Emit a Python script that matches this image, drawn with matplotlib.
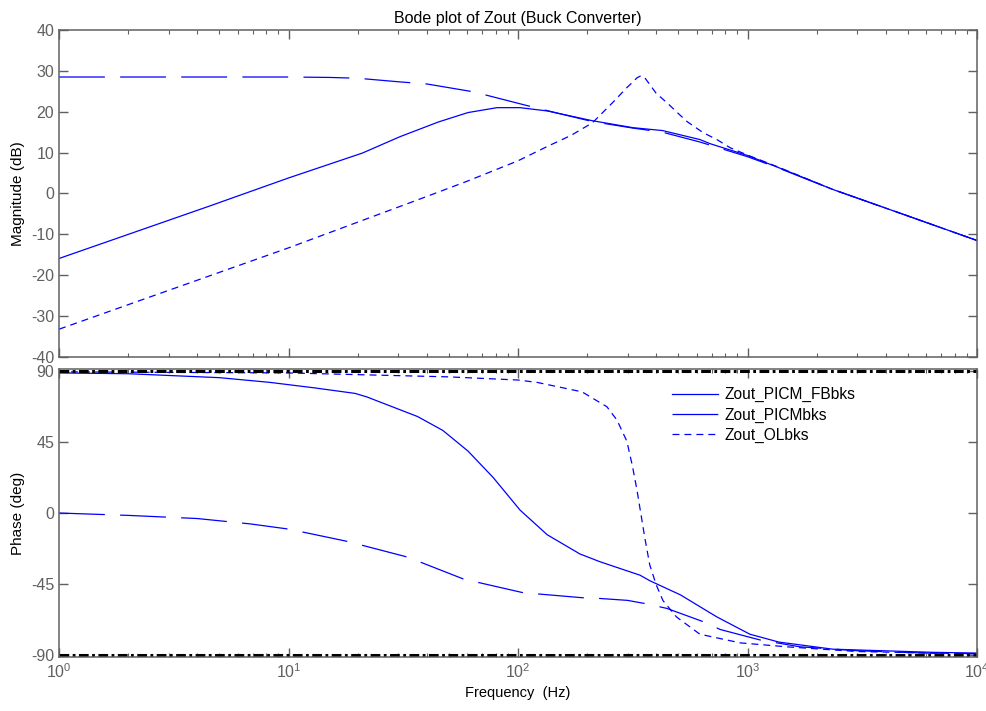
import numpy as np
import matplotlib
matplotlib.use("Agg")
import matplotlib.pyplot as plt

plt.rcParams['font.family'] = ['Liberation Sans', 'DejaVu Sans']
plt.rcParams['mathtext.fontset'] = 'custom'
plt.rcParams['mathtext.rm'] = 'Liberation Sans'
plt.rcParams['mathtext.default'] = 'regular'
plt.rcParams['lines.scale_dashes'] = False
plt.rcParams['axes.unicode_minus'] = False

# magnitude (dB)
f_fb_mag = [1, 4.46, 10, 21, 30.6, 45, 60.5, 81, 102, 134, 211, 317, 426, 620, 686, 1000, 1370, 2350, 5000, 10000]
mag_fb = [-15.9, -3.2, 3.8, 9.9, 13.9, 17.5, 19.8, 21.0, 21.0, 20.2, 17.8, 16.1, 15.4, 13.2, 12.2, 9.3, 6.3, 1.0, -5.5, -11.5]

f_picm_mag = [1, 10, 15, 20, 30.6, 40, 63.6, 115, 150, 211, 317, 426, 620, 1000, 1370, 2350, 5000, 10000]
mag_picm = [28.5, 28.5, 28.4, 28.2, 27.3, 26.8, 24.9, 21.2, 19.6, 17.6, 16.0, 15.0, 12.6, 9.0, 6.2, 1.0, -5.5, -11.5]

f_ol_mag = [1, 10, 38, 60, 100, 134, 170, 211, 258, 298, 330, 343, 357, 400, 450, 490, 545, 640, 735, 840, 1000, 1370, 2350, 5000, 10000]
mag_ol = [-33.2, -13.3, -1.2, 3.0, 8.0, 11.5, 14.2, 17.3, 22.2, 25.9, 28.3, 28.8, 28.3, 24.5, 22.0, 20.0, 17.6, 14.9, 13.2, 11.2, 9.4, 6.4, 1.0, -5.5, -11.5]

# phase (deg)
f_fb_ph = [1, 2, 5, 8.3, 13, 19.5, 22, 36.5, 47, 60.5, 78, 102, 134, 186, 228, 340, 375, 510, 735, 1024, 1370, 2350, 6400, 10000]
ph_fb = [89, 88.5, 86, 83, 79.5, 76, 73.7, 61.3, 52.5, 39.4, 22.5, 1.9, -13.8, -26, -31, -39.5, -43, -52, -66, -77, -82, -86.5, -88.5, -89]

f_picm_ph = [1, 2, 4, 6.8, 10, 18, 33, 58, 105, 190, 228, 300, 357, 445, 640, 760, 1130, 1690, 3000, 6000, 10000]
ph_picm = [0, -1.5, -3.5, -6.9, -10.2, -18, -28, -42, -50.6, -53.8, -54.3, -55.5, -57.5, -60.6, -69, -74, -80.6, -85, -87.5, -89, -89.3]

f_ol_ph = [1, 10, 50, 100, 121, 190, 244, 270, 298, 315, 330, 357, 375, 400, 428, 490, 620, 930, 1480, 3000, 10000]
ph_ol = [89.7, 89, 86.5, 84.5, 83, 77, 67.5, 59, 45.6, 30, 14.4, -16, -33, -45.6, -55.6, -66, -77, -82.5, -85, -88, -89.5]

labels = ['Zout_PICM_FBbks', 'Zout_PICMbks', 'Zout_OLbks']
blue = '#0000ff'
gray = '#606060'

fig = plt.figure(figsize=(9.87, 7.11), dpi=100)
ax1 = fig.add_axes([0.0598, 0.4979, 0.9301, 0.4599])
ax2 = fig.add_axes([0.0598, 0.0759, 0.9301, 0.4051])

ax1.plot(f_fb_mag, mag_fb, color=blue, lw=0.9)
ax1.plot(f_picm_mag, mag_picm, color=blue, lw=0.9, dashes=(33, 11))
ax1.plot(f_ol_mag, mag_ol, color=blue, lw=0.9, dashes=(5, 3.6))

l1, = ax2.plot(f_fb_ph, ph_fb, color=blue, lw=0.9)
l2, = ax2.plot(f_picm_ph, ph_picm, color=blue, lw=0.9, dashes=(33, 11))
l3, = ax2.plot(f_ol_ph, ph_ol, color=blue, lw=0.9, dashes=(5, 3.6))
for yv in (90, -90):
    ax2.plot([1, 10000], [yv, yv], color='black', lw=2.2, dashes=(7, 2.5, 2, 2.5))

for ax in (ax1, ax2):
    ax.set_xscale('log')
    ax.set_xlim(1, 10000)
    ax.tick_params(which='both', direction='in', top=True, right=True,
                   colors=gray, labelsize=11.5)
    ax.tick_params(which='major', length=6.5, width=1)
    ax.tick_params(which='minor', length=3, width=0.8)
    for s in ax.spines.values():
        s.set_color(gray)
        s.set_linewidth(1.1)

ax1.set_ylim(-40, 40)
ax1.set_yticks(np.arange(-40, 41, 10))
ax1.set_xticklabels([])
ax1.set_ylabel('Magnitude (dB)', fontsize=11)
ax1.set_title('Bode plot of Zout (Buck Converter)', fontsize=11.5, pad=5)

ax2.set_ylim(-91.5, 91.5)
ax2.set_yticks([-90, -45, 0, 45, 90])
ax2.set_xticks([1, 10, 100, 1000, 10000])
ax2.set_xticklabels([r'$10^{%d}$' % i for i in range(5)])
ax2.set_ylabel('Phase (deg)', fontsize=11)
ax2.set_xlabel('Frequency  (Hz)', fontsize=10.5)

ax2.legend([l1, l2, l3], labels, loc='upper left', bbox_to_anchor=(0.652, 0.985),
           frameon=False, fontsize=11.2, handlelength=3.0, labelspacing=0.32,
           handletextpad=0.4)

fig.savefig('out.png', dpi=100)
